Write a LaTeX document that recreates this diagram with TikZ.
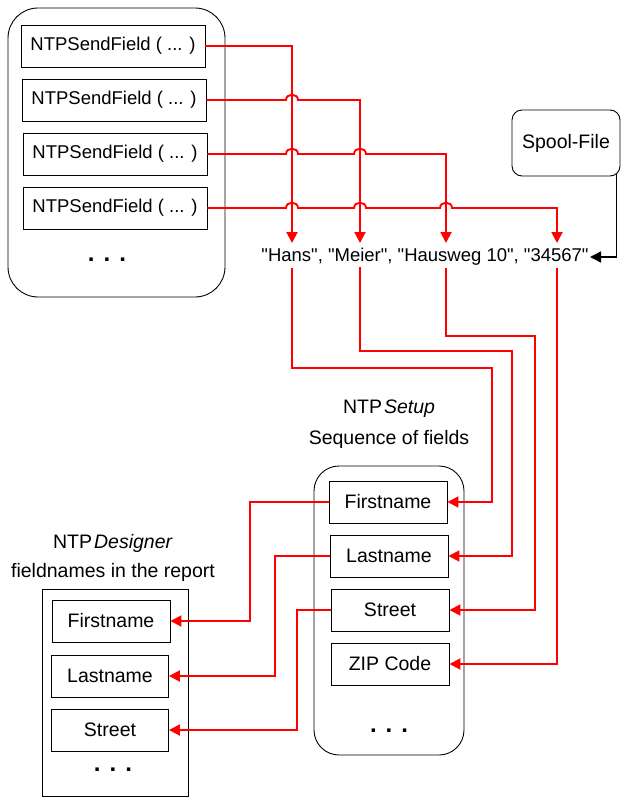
\documentclass[tikz,border=0pt]{standalone}
\usepackage{fontspec}
\setmainfont{Liberation Sans}[Ligatures=TeXOff]
\usetikzlibrary{arrows.meta}
\begin{document}
\begin{tikzpicture}[x=1pt,y=-1pt,
  txt/.style={font=\fontsize{19.5}{23}\selectfont, inner sep=0pt},
  fbox/.style={draw, line width=0.9pt, inner sep=0pt, minimum height=42pt, minimum width=118pt, font=\fontsize{19.5}{23}\selectfont},
  sbox/.style={fbox, minimum width=184pt, font=\fontsize{18.5}{22}\selectfont},
  group/.style={draw, line width=0.9pt},
  dots/.style={font=\fontsize{24}{24}\bfseries, inner sep=0pt},
  redline/.style={draw=red, line width=1.9pt},
  redarr/.style={redline, -{Triangle[length=11pt,width=11pt]}},
  blkarr/.style={draw=black, line width=1.5pt, -{Triangle[length=11pt,width=11pt]}},
]
\useasboundingbox (0,0) rectangle (628,802);

% groups
\draw[group, rounded corners=30pt] (8,8) rectangle (225,297);
\draw[group, rounded corners=25pt] (314,466) rectangle (464,755);
\draw[group] (42,589) rectangle (188,796);

% send field boxes
\node[sbox] (b1) at (113,46) {NTPSendField ( ... )};
\node[sbox] (b2) at (114,100) {NTPSendField ( ... )};
\node[sbox] (b3) at (115,154) {NTPSendField ( ... )};
\node[sbox] (b4) at (115,208) {NTPSendField ( ... )};
\node[dots] (dotsA) at (107,260) {.\hspace{9pt}.\hspace{9pt}.};

% spool file
\node[draw, line width=0.9pt, rounded corners=10pt, minimum width=108pt, minimum height=66pt, txt] (spool) at (566,143) {Spool-File};

% string
\node[txt, font=\fontsize{18.5}{22}\selectfont] (str) at (425,257) {"Hans", "Meier", "Hausweg 10", "34567"};
\coordinate (hT) at (292,243);
\coordinate (mT) at (360,243);
\coordinate (aT) at (446,243);
\coordinate (zT) at (557,243);
\coordinate (hB) at (292,268);
\coordinate (mB) at (360,267);
\coordinate (aB) at (446,268);
\coordinate (zB) at (557,268);
\coordinate (sIn) at (590,257);

% setup
\node[txt] (setupA) at (389,409) {NTP\hspace{2pt}\textit{Setup}};
\node[txt] (setupB) at (389,439) {Sequence of fields};
\node[fbox] (s1) at (388,502) {Firstname};
\node[fbox] (s2) at (389,556) {Lastname};
\node[fbox] (s3) at (390,610) {Street};
\node[fbox] (s4) at (390,664) {ZIP Code};
\node[dots] (dotsB) at (389,731) {.\hspace{9pt}.\hspace{9pt}.};

% designer
\node[txt] (desA) at (113,543) {NTP\hspace{2pt}\textit{Designer}};
\node[txt] (desB) at (113,572) {fieldnames in the report};
\node[fbox] (d1) at (111,621) {Firstname};
\node[fbox, minimum width=117pt] (d2) at (110,676) {Lastname};
\node[fbox, minimum width=117pt] (d3) at (110,730) {Street};
\node[dots] (dotsC) at (113,770) {.\hspace{9pt}.\hspace{9pt}.};

% send -> string (with hops)
\draw[redarr] (b1.east) -| (hT);
\draw[redarr] (b2.east) -- (286,100) .. controls (286,93) and (298,93) .. (298,100) -| (mT);
\draw[redarr] (b3.east) -- (286,154) .. controls (286,147) and (298,147) .. (298,154)
  -- (354,154) .. controls (354,147) and (366,147) .. (366,154) -| (aT);
\draw[redarr] (b4.east) -- (286,208) .. controls (286,201) and (298,201) .. (298,208)
  -- (354,208) .. controls (354,201) and (366,201) .. (366,208)
  -- (440,208) .. controls (440,201) and (452,201) .. (452,208) -| (zT);

% spool -> string
\draw[blkarr] ([xshift=-4pt,yshift=2pt]spool.south east) |- (sIn);

% string -> setup
\draw[redarr] (hB) -- ++(0,100) -- ++(200,0) |- (s1.east);
\draw[redarr] (mB) -- ++(0,84) -- ++(152,0) |- (s2.east);
\draw[redarr] (aB) -- ++(0,68) -- ++(89,0) |- (s3.east);
\draw[redarr] (zB) |- (s4.east);

% setup -> designer
\draw[redarr] (s1.west) -- ++(-79,0) |- (d1.east);
\draw[redarr] (s2.west) -- ++(-55,0) |- (d2.east);
\draw[redarr] (s3.west) -- ++(-34,0) |- (d3.east);
\end{tikzpicture}
\end{document}
